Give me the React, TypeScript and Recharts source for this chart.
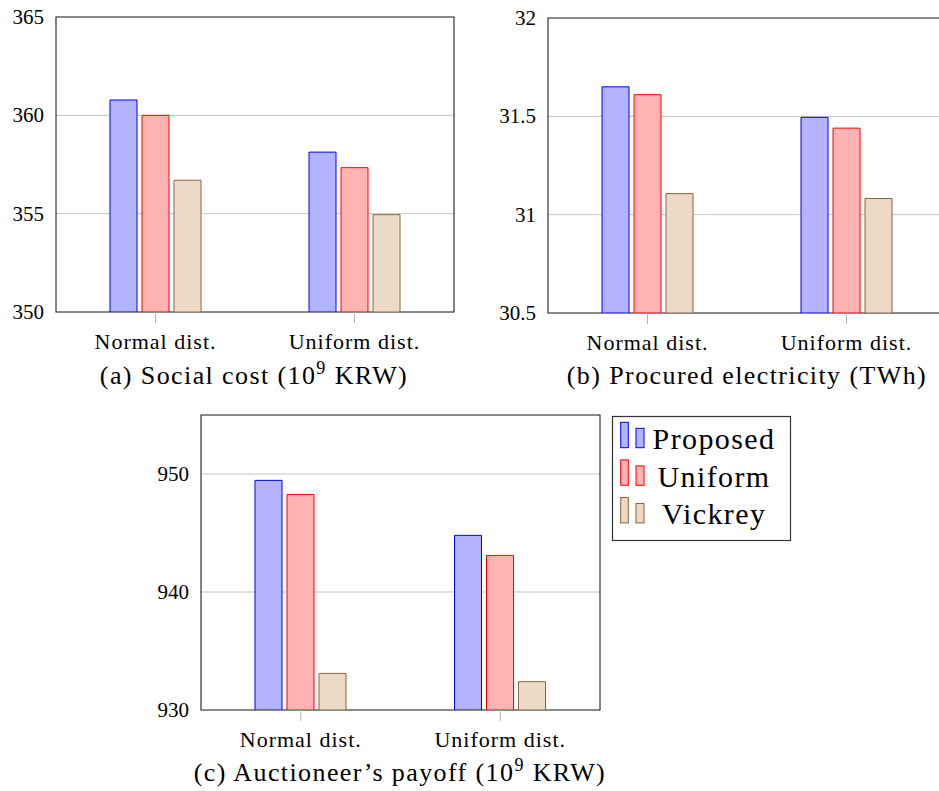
import React from 'react';
import { BarChart, Bar, XAxis, YAxis, CartesianGrid, ReferenceArea } from 'recharts';

// ---------- data ----------
const categories = ['Normal dist.', 'Uniform dist.'];
const seriesNames = ['Proposed', 'Uniform', 'Vickrey'];

const socialProposed = [360.78, 358.13];
const socialUniform = [360.0, 357.34];
const socialVickrey = [356.7, 354.95];
const socialTicks = [350, 355, 360, 365];

const electricityProposed = [31.65, 31.495];
const electricityUniform = [31.61, 31.44];
const electricityVickrey = [31.107, 31.082];
const electricityTicks = [30.5, 31, 31.5, 32];

const payoffProposed = [949.46, 944.8];
const payoffUniform = [948.27, 943.1];
const payoffVickrey = [933.1, 932.4];
const payoffTicks = [930, 940, 950];
const payoffDomain = [930, 955];

// ---------- styles ----------
const FONT = 'Liberation Serif';
const STROKES = ['#0000ff', '#ff0000', '#8a6642'];
const FILLS = ['#b3b3ff', '#ffb3b3', '#ecdac6'];
const KEYS = ['proposed', 'uniform', 'vickrey'];

function buildRows(p: number[], u: number[], v: number[]) {
  return categories.map((c, i) => ({ category: c, proposed: p[i], uniform: u[i], vickrey: v[i] }));
}

const socialRows = buildRows(socialProposed, socialUniform, socialVickrey);
const electricityRows = buildRows(electricityProposed, electricityUniform, electricityVickrey);
const payoffRows = buildRows(payoffProposed, payoffUniform, payoffVickrey);

const XTick = (props: any) => {
  const { x, y, payload } = props;
  return (
    <text x={x} y={y} dy={26} textAnchor="middle" fontFamily={FONT} fontSize={22} letterSpacing={1} fill="#000">
      {payload.value}
    </text>
  );
};

const YTick = (props: any) => {
  const { x, y, payload } = props;
  return (
    <text x={x} y={y} dy={7} textAnchor="end" fontFamily={FONT} fontSize={21} fill="#000">
      {payload.value}
    </text>
  );
};

const EmptyTick = () => <g />;

type PanelProps = {
  data: any[];
  ticks: number[];
  domain: number[];
  left: number;
  top: number;
  width: number;
  height: number;
  margin: { top: number; right: number; bottom: number; left: number };
  yAxisWidth: number;
  xAxisHeight: number;
};

const Panel = ({ data, ticks, domain, left, top, width, height, margin, yAxisWidth, xAxisHeight }: PanelProps) => (
  <div style={{ position: 'absolute', left, top }}>
    <BarChart width={width} height={height} data={data} margin={margin} barSize={27} barGap={5}>
      <CartesianGrid vertical={false} stroke="#c4c4c4" />
      <XAxis
        dataKey="category"
        height={xAxisHeight}
        axisLine={false}
        tickLine={{ stroke: '#b4b4b4' }}
        tickSize={11}
        tickMargin={0}
        tick={<XTick />}
        interval={0}
      />
      <XAxis
        xAxisId="top"
        orientation="top"
        dataKey="category"
        height={0}
        axisLine={false}
        tickLine={{ stroke: '#b4b4b4' }}
        tickSize={11}
        tick={<EmptyTick />}
        interval={0}
      />
      <YAxis
        type="number"
        domain={domain}
        ticks={ticks}
        width={yAxisWidth}
        axisLine={false}
        tickLine={false}
        tickSize={0}
        tickMargin={12}
        tick={<YTick />}
        allowDataOverflow
      />
      <ReferenceArea y1={domain[0]} y2={domain[1]} fill="none" fillOpacity={0} stroke="#333" strokeWidth={1.2} ifOverflow="visible" />
      {KEYS.map((k, i) => (
        <Bar key={k} dataKey={k} name={seriesNames[i]} fill={FILLS[i]} stroke={STROKES[i]} strokeWidth={1} isAnimationActive={false} />
      ))}
    </BarChart>
  </div>
);

const Sup9 = () => (
  <>
    <tspan dy={-10} fontSize={18}>9</tspan>
    <tspan dy={10}> KRW)</tspan>
  </>
);

export default function App() {
  return (
    <div style={{ position: 'fixed', left: 0, top: 0, width: 939, height: 791, overflow: 'hidden', background: '#fff' }}>
      <Panel
        data={socialRows}
        ticks={socialTicks}
        domain={[socialTicks[0], socialTicks[socialTicks.length - 1]]}
        left={0}
        top={0}
        width={470}
        height={360}
        margin={{ top: 17, right: 16, bottom: 0, left: 0 }}
        yAxisWidth={56}
        xAxisHeight={48}
      />
      <Panel
        data={electricityRows}
        ticks={electricityTicks}
        domain={[electricityTicks[0], electricityTicks[electricityTicks.length - 1]]}
        left={470}
        top={0}
        width={490}
        height={360}
        margin={{ top: 18, right: 14, bottom: 0, left: 0 }}
        yAxisWidth={78}
        xAxisHeight={47}
      />
      <Panel
        data={payoffRows}
        ticks={payoffTicks}
        domain={payoffDomain}
        left={140}
        top={400}
        width={470}
        height={360}
        margin={{ top: 15, right: 10, bottom: 0, left: 0 }}
        yAxisWidth={61}
        xAxisHeight={50}
      />
      <svg width={939} height={791} style={{ position: 'absolute', left: 0, top: 0, pointerEvents: 'none' }}>
        <g fontFamily={FONT} fill="#000" fontSize={26} letterSpacing={1.4} textAnchor="middle">
          <text x={254} y={384}>
            (a) Social cost (10<Sup9 />
          </text>
          <text x={747} y={384}>(b) Procured electricity (TWh)</text>
          <text x={400} y={781}>
            (c) Auctioneer’s payoff (10<Sup9 />
          </text>
        </g>
        <rect x={612.5} y={416.5} width={178} height={124} fill="#fff" stroke="#333" strokeWidth={1.2} />
        {seriesNames.map((name, i) => {
          const dy = i * 37.6;
          return (
            <g key={name}>
              <rect x={620.7} y={422.3 + dy} width={7.6} height={25.4} fill={FILLS[i]} stroke={STROKES[i]} strokeWidth={1} />
              <rect x={636} y={428.3 + dy} width={8} height={19.4} fill={FILLS[i]} stroke={STROKES[i]} strokeWidth={1} />
              <text x={714} y={449 + dy} textAnchor="middle" fontFamily={FONT} fontSize={30} letterSpacing={1.4} fill="#000">
                {name}
              </text>
            </g>
          );
        })}
      </svg>
    </div>
  );
}
